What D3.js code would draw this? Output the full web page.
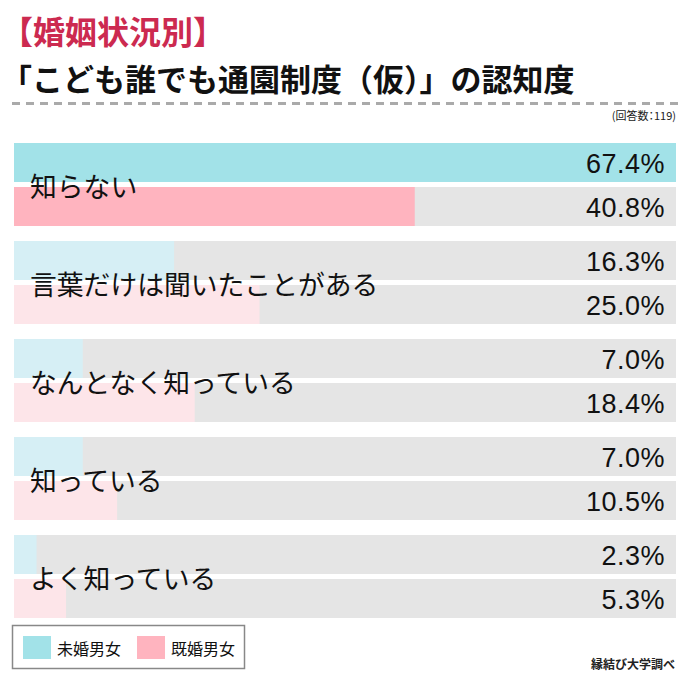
<!DOCTYPE html>
<html>
<head>
<meta charset="utf-8">
<script src="https://cdn.jsdelivr.net/npm/d3@7"></script>
<style>
  html, body { margin: 0; padding: 0; background: #fff; }
  svg { display: block; }
</style>
</head>
<body>
<svg id="chart" width="690" height="683"></svg>
<script>
const categories = ["知らない", "言葉だけは聞いたことがある", "なんとなく知っている", "知っている", "よく知っている"];
const unmarried = [67.4, 16.3, 7.0, 7.0, 2.3];
const married = [40.8, 25.0, 18.4, 10.5, 5.3];
const seriesNames = ["未婚男女", "既婚男女"];
const titleLine1 = "【婚姻状況別】";
const titleLine2 = "「こども誰でも通園制度（仮）」の認知度";
const sampleNote = "(回答数：119)";
const sourceNote = "縁結び大学調べ";

const W = 690, H = 683;
const svg = d3.select("#chart");
const jp = "'Noto Sans CJK JP', 'Noto Sans', sans-serif";
const latin = "'Liberation Sans', Arial, Helvetica, sans-serif";

const strong = ["#a2e2e8", "#ffb4bf"];
const light = ["#d6eff5", "#fde5e9"];
const bgGray = "#e5e5e5";

// Titles
svg.append("text").attr("x", 1).attr("y", 44)
  .attr("font-family", jp).attr("font-size", 32).attr("font-weight", "bold")
  .attr("fill", "#cc2a50").text(titleLine1);
svg.append("text").attr("x", 1).attr("y", 91)
  .attr("font-family", jp).attr("font-size", 31).attr("font-weight", "bold")
  .attr("fill", "#111").text(titleLine2);

svg.append("line").attr("x1", 12).attr("x2", 678).attr("y1", 103.5).attr("y2", 103.5)
  .attr("stroke", "#aaa").attr("stroke-width", 3).attr("stroke-dasharray", "8,6");

svg.append("text").attr("x", 676).attr("y", 120).attr("text-anchor", "end")
  .attr("font-family", jp).attr("font-size", 11).attr("fill", "#222")
  .style("font-feature-settings", "'palt'").text(sampleNote);

// Scales
const x = d3.scaleLinear().domain([0, d3.max(unmarried.concat(married))]).range([14, 676]);
const gy = d3.scaleBand().domain(categories).range([143, 143 + 98 * categories.length]).paddingInner(0).paddingOuter(0);
const barH = 39, barGap = 5;

const rows = categories.map((c, i) => ({ c, i, vals: [unmarried[i], married[i]] }));

const g = svg.selectAll("g.grp").data(rows).join("g").attr("class", "grp")
  .attr("transform", d => `translate(0,${gy(d.c)})`);

g.each(function(d) {
  const sel = d3.select(this);
  d.vals.forEach((v, j) => {
    const y0 = j * (barH + barGap);
    sel.append("rect").attr("x", x(0)).attr("y", y0).attr("width", x.range()[1] - x(0)).attr("height", barH).attr("fill", bgGray);
    sel.append("rect").attr("x", x(0)).attr("y", y0).attr("width", x(v) - x(0)).attr("height", barH)
      .attr("fill", d.i === 0 ? strong[j] : light[j]);
    sel.append("text").attr("x", 665).attr("y", y0 + barH / 2 + 1).attr("text-anchor", "end")
      .attr("dominant-baseline", "central")
      .attr("font-family", latin).attr("font-size", 27).attr("letter-spacing", 0.5).attr("fill", "#111")
      .text(v.toFixed(1) + "%");
  });
  sel.append("text").attr("x", 30).attr("y", barH + barGap / 2 + 1).attr("dominant-baseline", "central")
    .attr("font-family", jp).attr("font-size", 26.8).attr("fill", "#111").text(d.c);
});

// Legend
const lg = svg.append("g");
lg.append("rect").attr("x", 12.5).attr("y", 625.5).attr("width", 232).attr("height", 43)
  .attr("fill", "#fff").attr("stroke", "#888").attr("stroke-width", 1.5);
const legX = [23, 137];
seriesNames.forEach((n, j) => {
  lg.append("rect").attr("x", legX[j]).attr("y", 636).attr("width", 28).attr("height", 23).attr("fill", strong[j]);
  lg.append("text").attr("x", legX[j] + 34).attr("y", 648).attr("dominant-baseline", "central")
    .attr("font-family", jp).attr("font-size", 16).attr("fill", "#111").text(n);
});

svg.append("text").attr("x", 675).attr("y", 669).attr("text-anchor", "end")
  .attr("font-family", jp).attr("font-size", 12).attr("font-weight", "bold").attr("fill", "#222").text(sourceNote);
</script>
</body>
</html>
